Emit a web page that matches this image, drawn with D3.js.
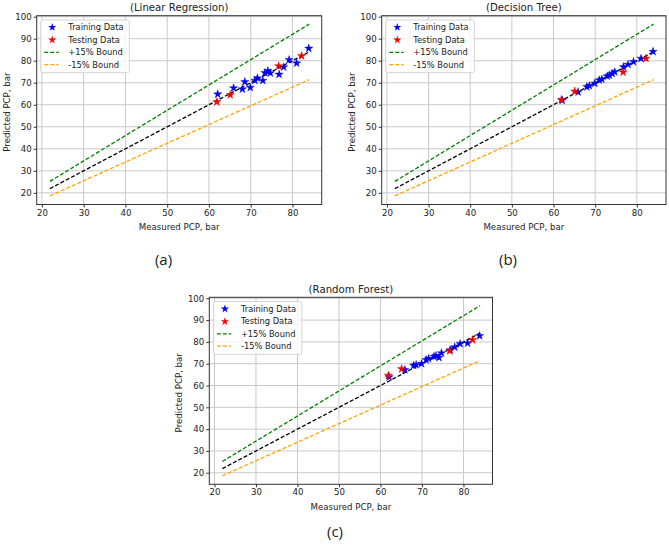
<!DOCTYPE html>
<html><head><meta charset="utf-8">
<script src="https://cdn.jsdelivr.net/npm/d3@7"></script>
<style>
html,body{margin:0;padding:0;background:#fff;}
svg{display:block;}
text{font-family:"DejaVu Sans",sans-serif;fill:#222;}
</style></head>
<body>
<svg id="chart" width="669" height="547"></svg>
<script>
// ---- data ----
const xTicks = [20, 30, 40, 50, 60, 70, 80];
const yTicks = [20, 30, 40, 50, 60, 70, 80, 90, 100];
const lineRange = [21.9, 84.0];
const measuredTrain = [62.1, 65.9, 68.0, 68.6, 69.9, 71.0, 71.6, 72.9, 73.4, 74.1, 74.7, 76.8, 77.9, 79.2, 81.0, 83.9];
const measuredTest = [61.9, 65.1, 76.7, 82.2];
const lrTrainPred = [64.8, 67.6, 67.1, 70.4, 67.8, 71.0, 72.1, 71.0, 74.5, 75.4, 74.4, 73.8, 77.1, 80.4, 78.9, 85.6];
const lrTestPred = [61.3, 64.5, 77.6, 82.2];
const dtTrainPred = [62.0, 65.8, 68.1, 68.6, 69.7, 71.2, 71.6, 73.0, 73.4, 74.2, 74.9, 77.2, 78.3, 79.5, 81.0, 84.1];
const dtTestPred = [62.3, 66.1, 74.8, 81.0];
const rfTrainPred = [63.9, 67.2, 69.2, 69.5, 70.0, 71.8, 72.3, 73.3, 73.6, 72.8, 74.9, 76.3, 77.6, 79.1, 79.4, 82.8];
const rfTestPred = [64.6, 67.6, 75.9, 80.9];
const titles = ["(Linear Regression)", "(Decision Tree)", "(Random Forest)"];
const panelLabels = ["(a)", "(b)", "(c)"];
const legendLabels = ["Training Data", "Testing Data", "+15% Bound", "-15% Bound"];
const boundFactors = [1.15, 0.85];

// ---- layout ----
const panels = [
  {left: 36.7, top: 15.7, right: 321.7, bottom: 204.5, label: [163.5, 265], train: lrTrainPred, test: lrTestPred},
  {left: 381.7, top: 15.7, right: 666, bottom: 204.5, label: [508, 265], train: dtTrainPred, test: dtTestPred},
  {left: 209.3, top: 297.3, right: 492.5, bottom: 484.3, label: [335, 537], train: rfTrainPred, test: rfTestPred}
];
const xDomain = [18.75, 87.0];
const yDomain = [14.7, 100.45];
const svg = d3.select("#chart");
const star = d3.symbol().type(d3.symbolStar).size(21);
const colors = {train: "#0000ff", test: "#ff0000", up: "#008000", low: "#ffa500", ideal: "#000"};

panels.forEach((p, i) => {
  const x = d3.scaleLinear().domain(xDomain).range([p.left, p.right]);
  const y = d3.scaleLinear().domain(yDomain).range([p.bottom, p.top]);
  const g = svg.append("g");
  // grid
  g.selectAll(".gx").data(xTicks).join("line")
    .attr("x1", d => x(d)).attr("x2", d => x(d)).attr("y1", p.top).attr("y2", p.bottom)
    .attr("stroke", "#c9c9c9").attr("stroke-width", 1);
  g.selectAll(".gy").data(yTicks).join("line")
    .attr("y1", d => y(d)).attr("y2", d => y(d)).attr("x1", p.left).attr("x2", p.right)
    .attr("stroke", "#c9c9c9").attr("stroke-width", 1);
  // axes
  const xa = g.append("g").attr("transform", `translate(0,${p.bottom})`)
    .call(d3.axisBottom(x).tickValues(xTicks).tickSize(3).tickPadding(2));
  const ya = g.append("g").attr("transform", `translate(${p.left},0)`)
    .call(d3.axisLeft(y).tickValues(yTicks).tickSize(3).tickPadding(2));
  [xa, ya].forEach(a => {
    a.select(".domain").remove();
    a.selectAll("line").attr("stroke", "#333");
    a.selectAll("text").attr("font-size", 8.6).attr("font-family", "DejaVu Sans").attr("fill", "#222");
  });
  // lines
  const line = d3.line().x(d => x(d[0])).y(d => y(d[1]));
  const mk = f => lineRange.map(v => [v, v * f]);
  g.append("path").attr("d", line(mk(1))).attr("stroke", colors.ideal).attr("fill", "none")
    .attr("stroke-width", 1.3).attr("stroke-dasharray", "4,2");
  g.append("path").attr("d", line(mk(boundFactors[0]))).attr("stroke", colors.up).attr("fill", "none")
    .attr("stroke-width", 1.3).attr("stroke-dasharray", "4,2");
  g.append("path").attr("d", line(mk(boundFactors[1]))).attr("stroke", colors.low).attr("fill", "none")
    .attr("stroke-width", 1.3).attr("stroke-dasharray", "4,2");
  // points
  g.selectAll(".tr").data(measuredTrain.map((m, k) => [m, p.train[k]])).join("path")
    .attr("d", star).attr("transform", d => `translate(${x(d[0])},${y(d[1])})`)
    .attr("fill", colors.train).attr("stroke", "#0000cc").attr("stroke-width", 0.4);
  g.selectAll(".te").data(measuredTest.map((m, k) => [m, p.test[k]])).join("path")
    .attr("d", star).attr("transform", d => `translate(${x(d[0])},${y(d[1])})`)
    .attr("fill", colors.test).attr("stroke", "#cc0000").attr("stroke-width", 0.4);
  // frame
  g.append("rect").attr("x", p.left).attr("y", p.top).attr("width", p.right - p.left).attr("height", p.bottom - p.top)
    .attr("fill", "none").attr("stroke", "#333").attr("stroke-width", 1);
  // legend
  const lg = g.append("g").attr("transform", `translate(${p.left + 4},${p.top + 4.3})`);
  lg.append("rect").attr("width", 88.6).attr("height", 52.7).attr("rx", 2)
    .attr("fill", "#fff").attr("fill-opacity", 0.8).attr("stroke", "#d4d4d4").attr("stroke-width", 1);
  const rowY = [7.3, 19.9, 32.3, 44.6];
  const legColors = [colors.train, colors.test, colors.up, colors.low];
  legendLabels.forEach((t, k) => {
    if (k < 2) {
      lg.append("path").attr("d", star).attr("transform", `translate(11.6,${rowY[k]})`).attr("fill", legColors[k]);
    } else {
      lg.append("line").attr("x1", 3.6).attr("x2", 18).attr("y1", rowY[k]).attr("y2", rowY[k])
        .attr("stroke", legColors[k]).attr("stroke-width", 1.3).attr("stroke-dasharray", "4,2");
    }
    lg.append("text").attr("x", 27.6).attr("y", rowY[k] + 3).attr("font-size", 8.3).text(t);
  });
  // titles/labels
  const cx = (p.left + p.right) / 2;
  g.append("text").attr("x", cx).attr("y", p.top - 4.8).attr("text-anchor", "middle").attr("font-size", 10.2).text(titles[i]);
  g.append("text").attr("x", cx).attr("y", p.bottom + 25.5).attr("text-anchor", "middle").attr("font-size", 8.6).text("Measured PCP, bar");
  const cy = (p.top + p.bottom) / 2 + 2;
  g.append("text").attr("transform", `translate(${p.left - 27},${cy}) rotate(-90)`)
    .attr("text-anchor", "middle").attr("font-size", 8.6).text("Predicted PCP, bar");
  svg.append("text").attr("x", p.label[0]).attr("y", p.label[1]).attr("text-anchor", "middle")
    .attr("font-size", 15).style("font-family", "'Open Sans', sans-serif").text(panelLabels[i]);
});
</script>
</body></html>
